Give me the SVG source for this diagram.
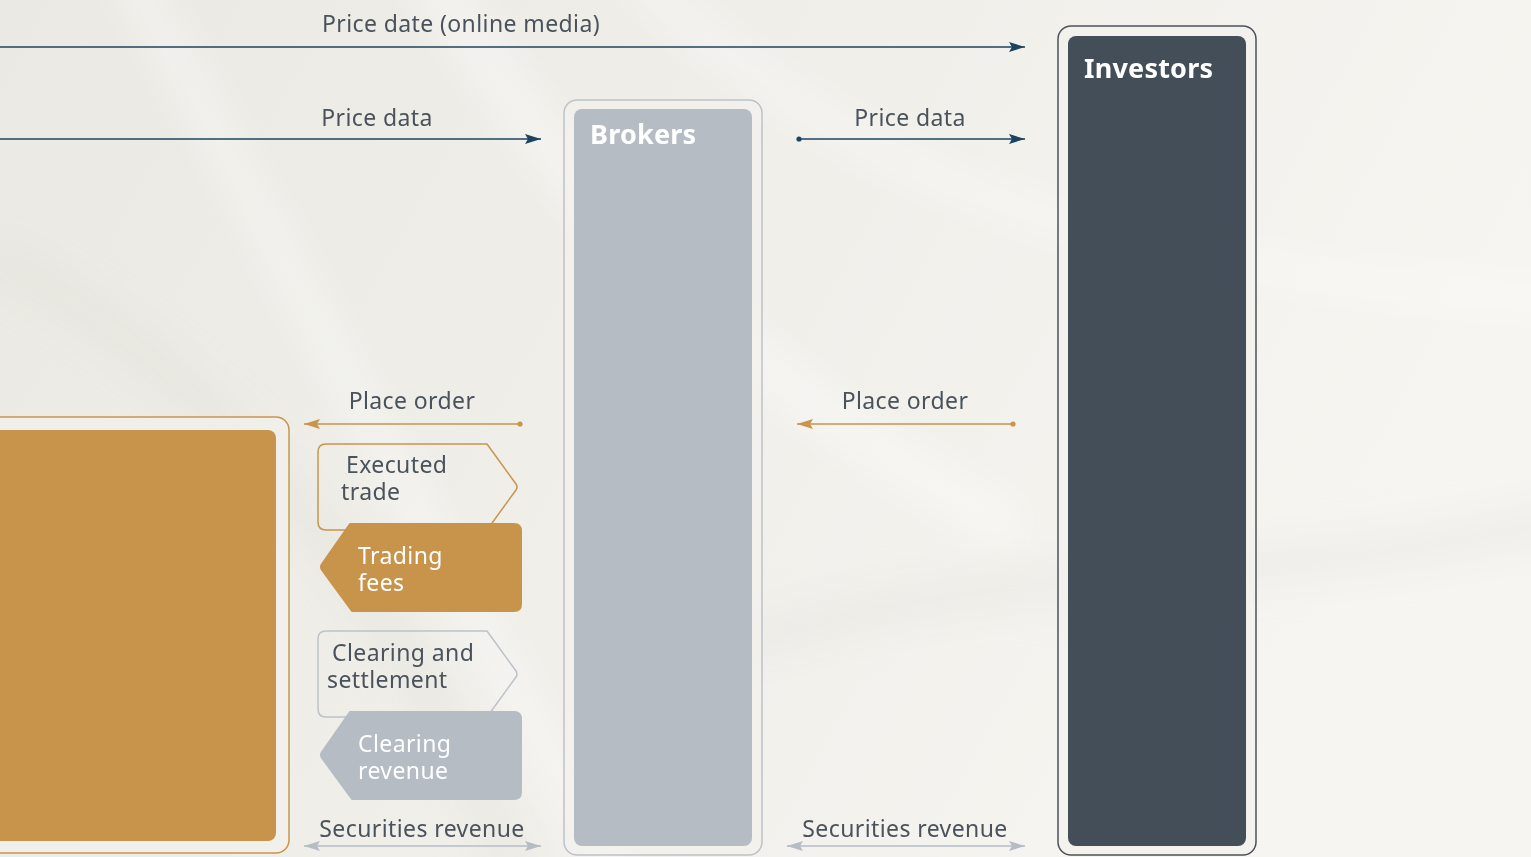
<svg xmlns="http://www.w3.org/2000/svg" width="1531" height="857" viewBox="0 0 1531 857">
  <defs>
    <linearGradient id="bg" x1="0" y1="0" x2="1" y2="0.3">
      <stop offset="0" stop-color="#EAE9E3"/>
      <stop offset="0.55" stop-color="#F0EFEA"/>
      <stop offset="1" stop-color="#F6F5F1"/>
    </linearGradient>
    <filter id="soft" x="-20%" y="-20%" width="140%" height="140%">
      <feGaussianBlur stdDeviation="18"/>
    </filter>
    <marker id="headBlue" viewBox="0 0 16 10" refX="16" refY="5" markerWidth="16" markerHeight="10" markerUnits="userSpaceOnUse" orient="auto">
      <path d="M0,0 L16,5 L0,10 L3,5 Z" fill="#1D445E"/>
    </marker>
    <marker id="headGold" viewBox="0 0 16 10" refX="16" refY="5" markerWidth="16" markerHeight="10" markerUnits="userSpaceOnUse" orient="auto">
      <path d="M0,0 L16,5 L0,10 L3,5 Z" fill="#C9954B"/>
    </marker>
    <marker id="headGrey" viewBox="0 0 16 10" refX="16" refY="5" markerWidth="16" markerHeight="10" markerUnits="userSpaceOnUse" orient="auto-start-reverse">
      <path d="M0,0 L16,5 L0,10 L3,5 Z" fill="#B5BCC4"/>
    </marker>
    <marker id="dotBlue" viewBox="0 0 6 6" refX="3" refY="3" markerWidth="6" markerHeight="6" markerUnits="userSpaceOnUse">
      <circle cx="3" cy="3" r="2.6" fill="#1D445E"/>
    </marker>
    <marker id="dotGold" viewBox="0 0 6 6" refX="3" refY="3" markerWidth="6" markerHeight="6" markerUnits="userSpaceOnUse">
      <circle cx="3" cy="3" r="2.6" fill="#C9954B"/>
    </marker>
  </defs>
  <style>
    .lbl { font-family: "Noto Sans", "Open Sans", sans-serif; font-size: 23px; fill: #4A535C; letter-spacing: 0.4px; }
    .lblw { font-family: "Noto Sans", "Open Sans", sans-serif; font-size: 23px; fill: #FFFFFF; letter-spacing: 0.4px; }
    .title { font-family: "Noto Sans", "Open Sans", sans-serif; font-size: 27px; font-weight: bold; fill: #FFFFFF; letter-spacing: 0.2px; }
    .blue { stroke: #1D445E; stroke-width: 1.6; fill: none; }
    .gold { stroke: #C9954B; stroke-width: 1.6; fill: none; }
    .grey { stroke: #B5BCC4; stroke-width: 1.6; fill: none; }
    .frame { fill: #F2F1EC; fill-opacity: 0.7; stroke-width: 1.5; }
  </style>

  <!-- backdrop with soft diagonal sheen -->
  <rect x="0" y="0" width="1531" height="857" fill="url(#bg)"/>
  <g filter="url(#soft)" fill="none" stroke-linecap="round">
    <path d="M120,-40 C260,200 360,420 620,880" stroke="#FFFFFF" stroke-width="40" opacity="0.35"/>
    <path d="M420,-40 C560,180 700,360 1000,520" stroke="#FFFFFF" stroke-width="50" opacity="0.35"/>
    <path d="M640,-20 C820,140 1000,260 1560,300" stroke="#FFFFFF" stroke-width="40" opacity="0.3"/>
    <path d="M0,260 C200,360 380,560 520,880" stroke="#DDDCD5" stroke-width="30" opacity="0.35"/>
    <path d="M760,640 C1000,560 1250,590 1560,520" stroke="#E4E3DC" stroke-width="40" opacity="0.35"/>
  </g>

  <!-- exchange (left, partly off-canvas) -->
  <g id="exchange">
    <rect class="frame" x="-20" y="417" width="309" height="436" rx="13" stroke="#C9954B"/>
    <rect x="-20" y="430" width="296" height="411" rx="8" fill="#C8944B"/>
  </g>

  <!-- brokers -->
  <g id="brokers">
    <rect class="frame" x="564" y="100" width="198" height="755" rx="13" stroke="#BCC2C9"/>
    <rect x="574" y="109" width="178" height="737" rx="8" fill="#B5BCC4"/>
    <text class="title" x="590" y="144">Brokers</text>
  </g>

  <!-- investors -->
  <g id="investors">
    <rect class="frame" x="1058" y="26" width="198" height="829" rx="13" stroke="#4A535C"/>
    <rect x="1068" y="36" width="178" height="810" rx="8" fill="#444E58"/>
    <text class="title" x="1084" y="78">Investors</text>
  </g>

  <!-- service tags between exchange and brokers -->
  <g id="executed-trade">
    <path d="M326,444 L487,444 L516,484 Q518,487 516,490 L487,530 L326,530 Q318,530 318,522 L318,452 Q318,444 326,444 Z" fill="none" stroke="#C9954B" stroke-width="1.5" stroke-linejoin="round"/>
    <text class="lbl" x="346" y="473">Executed</text>
    <text class="lbl" x="341" y="500">trade</text>
  </g>
  <g id="trading-fees">
    <path d="M350,524 L514,524 Q521,524 521,531 L521,604 Q521,611 514,611 L352,611 L322,570 Q320,567 322,564 Z" fill="#C8944B" stroke="#C8944B" stroke-width="2" stroke-linejoin="round"/>
    <text class="lblw" x="358" y="564">Trading</text>
    <text class="lblw" x="358" y="591">fees</text>
  </g>
  <g id="clearing-settlement">
    <path d="M326,631 L487,631 L516,671 Q518,674 516,677 L487,717 L326,717 Q318,717 318,709 L318,639 Q318,631 326,631 Z" fill="none" stroke="#BCC2C9" stroke-width="1.5" stroke-linejoin="round"/>
    <text class="lbl" x="332" y="661">Clearing and</text>
    <text class="lbl" x="327" y="688">settlement</text>
  </g>
  <g id="clearing-revenue">
    <path d="M350,712 L514,712 Q521,712 521,719 L521,792 Q521,799 514,799 L352,799 L322,758 Q320,755 322,752 Z" fill="#B5BCC4" stroke="#B5BCC4" stroke-width="2" stroke-linejoin="round"/>
    <text class="lblw" x="358" y="752">Clearing</text>
    <text class="lblw" x="358" y="779">revenue</text>
  </g>

  <!-- flows -->
  <g id="connectors">
    <line class="blue" x1="0" y1="47" x2="1025" y2="47" marker-end="url(#headBlue)"/>
    <line class="blue" x1="0" y1="139" x2="541" y2="139" marker-end="url(#headBlue)"/>
    <line class="blue" x1="799" y1="139" x2="1025" y2="139" marker-start="url(#dotBlue)" marker-end="url(#headBlue)"/>
    <line class="gold" x1="520" y1="424" x2="304" y2="424" marker-start="url(#dotGold)" marker-end="url(#headGold)"/>
    <line class="gold" x1="1013" y1="424" x2="797" y2="424" marker-start="url(#dotGold)" marker-end="url(#headGold)"/>
    <line class="grey" x1="304" y1="846" x2="541" y2="846" marker-start="url(#headGrey)" marker-end="url(#headGrey)"/>
    <line class="grey" x1="787" y1="846" x2="1025" y2="846" marker-start="url(#headGrey)" marker-end="url(#headGrey)"/>
  </g>

  <!-- flow labels -->
  <g id="flow-labels">
    <text class="lbl" x="461" y="32" text-anchor="middle">Price date (online media)</text>
    <text class="lbl" x="377" y="126" text-anchor="middle">Price data</text>
    <text class="lbl" x="910" y="126" text-anchor="middle">Price data</text>
    <text class="lbl" x="412" y="409" text-anchor="middle">Place order</text>
    <text class="lbl" x="905" y="409" text-anchor="middle">Place order</text>
    <text class="lbl" x="422" y="837" text-anchor="middle">Securities revenue</text>
    <text class="lbl" x="905" y="837" text-anchor="middle">Securities revenue</text>
  </g>
</svg>
